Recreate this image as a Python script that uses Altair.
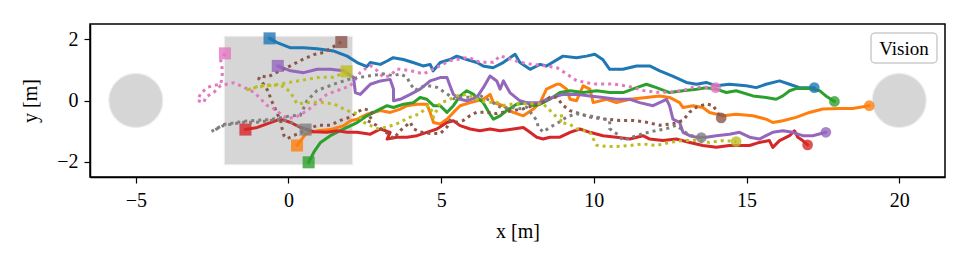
import altair as alt
import pandas as pd
import numpy as np

# ---------------- data ----------------
names = ["blue", "orange", "green", "red", "purple", "brown", "pink", "gray", "olive"]
colors = ["#1f77b4", "#ff7f0e", "#2ca02c", "#d62728", "#9467bd",
          "#8c564b", "#e377c2", "#7f7f7f", "#bcbd22"]
dotted = ["brown", "pink", "gray", "olive"]

blue_x = [-0.62, -0.37, 0.07, 0.49, 0.94, 1.47, 1.92, 2.25, 2.57, 2.68, 3.01, 3.23, 3.43, 3.76, 4.08, 4.41,
          4.64, 4.74, 4.97, 5.29, 5.51, 5.84, 6.17, 6.37, 6.70, 7.03, 7.42, 7.58, 7.91, 8.24, 8.45, 8.99,
          9.43, 9.76, 10.03, 10.29, 10.52, 10.95, 11.40, 11.83, 12.16, 12.58, 13.03, 13.36, 13.68, 14.01,
          14.44, 14.99, 15.32, 15.64, 16.08, 16.41, 16.73, 17.22]
blue_y = [2.03, 1.89, 1.72, 1.72, 1.69, 1.62, 1.45, 1.24, 1.11, 1.24, 1.18, 1.29, 1.40, 1.34, 1.24, 1.13,
          1.18, 0.97, 1.24, 1.34, 1.45, 1.34, 1.24, 1.13, 1.07, 1.24, 1.51, 1.24, 1.02, 1.18, 1.13, 1.45,
          1.40, 1.45, 1.51, 1.34, 1.02, 1.02, 1.13, 1.13, 0.97, 0.80, 0.59, 0.53, 0.59, 0.48,
          0.53, 0.48, 0.42, 0.53, 0.64, 0.53, 0.42, 0.42]

orange_x = [0.28, 0.56, 0.94, 1.37, 1.81, 2.03, 2.25, 2.57, 3.01, 3.33, 3.66, 3.88, 4.21, 4.53, 4.64, 4.75,
            4.97, 5.19, 5.40, 5.62, 5.95, 6.38, 6.60, 6.71, 7.04, 7.36, 7.69, 8.02, 8.24, 8.45, 8.78,
            8.89, 9.11, 9.22, 9.43, 9.65, 9.87, 9.98, 10.42, 10.74, 11.18, 11.72, 12.16, 12.48, 12.81,
            12.92, 13.25, 13.57, 13.79, 14.23, 14.66, 15.21, 15.64, 15.86, 16.19, 16.62, 17.06, 17.50,
            18.04, 18.47, 19.02]
orange_y = [-1.47, -1.10, -0.99, -0.95, -0.82, -0.66, -0.61, -0.45, -0.33, -0.39, -0.28, -0.17, -0.12, -0.12,
            -0.39, -0.72, -0.77, -0.61, -0.39, -0.17, -0.07, 0.04, 0.20, -0.07, -0.17, -0.39, -0.50, -0.28,
            -0.07, 0.37, 0.53, 0.53, 0.37, 0.04, -0.01, 0.48, 0.37, -0.07, 0.04, -0.07, 0.04, 0.10, 0.15,
            0.10, -0.07, -0.23, -0.17, -0.23, -0.39, -0.50, -0.45, -0.50, -0.61, -0.72, -0.66, -0.55, -0.39,
            -0.28, -0.26, -0.26, -0.17]

green_x = [0.66, 0.83, 1.05, 1.37, 1.81, 2.25, 2.57, 2.90, 3.23, 3.44, 3.77, 4.09, 4.31, 4.53, 4.75, 4.97,
           5.19, 5.40, 5.62, 5.84, 6.06, 6.38, 6.60, 6.71, 6.93, 7.15, 7.47, 7.80, 8.02, 8.24, 8.56, 8.89,
           9.22, 9.65, 10.09, 10.52, 10.96, 11.40, 11.72, 12.05, 12.48, 12.92, 13.36, 13.68, 14.01, 14.34,
           14.66, 15.21, 15.64, 15.97, 16.19, 16.41, 16.62, 17.06, 17.39, 17.60, 17.88]
green_y = [-2.02, -1.69, -1.37, -1.15, -0.93, -0.72, -0.50, -0.33, -0.17, -0.23, -0.12, -0.07, 0.10, 0.04,
           -0.17, -0.17, -0.39, -0.17, 0.15, 0.32, 0.20, -0.07, -0.45, -0.61, -0.50, -0.33, -0.12, -0.07,
           -0.17, -0.12, 0.04, 0.26, 0.32, 0.26, 0.32, 0.26, 0.26, 0.42, 0.53, 0.42, 0.26, 0.32, 0.37, 0.42,
           0.37, 0.26, 0.32, 0.15, 0.10, 0.04, 0.15, 0.32, 0.39, 0.39, 0.32, 0.15, -0.03]

red_x = [-1.41, -1.02, -0.59, -0.26, 0.07, 0.39, 0.83, 1.26, 1.59, 1.92, 2.25, 2.68, 3.01, 3.33, 3.23, 3.55,
         3.88, 4.21, 4.53, 4.86, 5.19, 5.40, 5.62, 5.95, 6.27, 6.60, 6.93, 7.36, 7.69, 7.91, 8.13, 8.34,
         8.56, 8.89, 9.22, 9.54, 9.87, 10.30, 10.74, 11.18, 11.61, 11.83, 12.26, 12.70, 13.14, 13.57,
         14.01, 14.44, 15.10, 15.42, 15.75, 15.86, 16.08, 16.41, 16.57, 16.68, 16.84, 17.00]
red_y = [-0.95, -0.88, -0.72, -0.61, -0.72, -0.88, -1.02, -1.04, -0.99, -1.04, -1.04, -1.10, -0.93, -1.04,
         -1.26, -1.20, -1.20, -1.15, -1.04, -0.93, -0.72, -0.66, -0.82, -0.93, -0.99, -0.93, -0.99, -0.93,
         -0.88, -1.04, -1.20, -1.26, -1.20, -1.20, -1.04, -0.93, -1.04, -1.15, -1.20, -1.26, -1.15, -1.26,
         -1.31, -1.26, -1.37, -1.47, -1.53, -1.47, -1.47, -1.37, -1.31, -1.53, -1.31, -1.15, -0.99, -1.20,
         -1.31, -1.45]

purple_x = [-0.35, 0.07, 0.50, 0.94, 1.37, 1.81, 2.13, 2.19, 2.35, 2.57, 2.68, 3.01, 3.33, 3.44, 3.44, 3.66,
            3.99, 4.31, 4.64, 4.97, 5.19, 5.29, 5.40, 5.62, 5.84, 6.17, 6.38, 6.60, 6.82, 6.93, 7.04, 7.25,
            7.58, 7.80, 8.24, 8.45, 8.99, 9.43, 9.87, 10.30, 10.74, 11.18, 11.50, 11.94, 12.38, 12.48, 12.59,
            12.81, 12.92, 13.14, 13.36, 13.68, 14.01, 14.44, 14.77, 15.10, 15.42, 15.64, 15.86, 16.19,
            16.51, 16.84, 17.17, 17.60]
purple_y = [1.13, 0.97, 0.91, 1.02, 1.02, 0.97, 0.75, 0.26, 0.20, 0.42, 0.53, 0.64, 0.69, 0.37, -0.01, 0.04,
            0.20, 0.37, 0.64, 0.75, 0.75, 0.48, 0.20, 0.04, -0.01, 0.10, 0.42, 0.80, 0.64, 0.37, 0.64, 0.26,
            -0.01, -0.07, -0.07, 0.04, 0.20, 0.20, 0.15, 0.10, 0.04, 0.04, -0.07, -0.17, 0.04, -0.17, -0.61,
            -0.72, -1.04, -1.15, -1.20, -1.20, -1.15, -1.10, -1.04, -1.20, -1.26, -1.15, -1.04, -0.99,
            -1.04, -1.15, -1.15, -1.04]

brown_x = [1.73, 1.15, 0.83, 0.50, 0.17, -0.04, -0.26, -0.48, -0.70, -0.92, -0.97, -0.86, -0.75, -0.64, -0.59,
           -0.48, -0.37, -0.26, -0.21, -0.15, -0.04, 0.07, 0.49, 0.94, 1.37, 1.70, 2.03, 2.25, 2.46, 2.68,
           2.79, 2.57, 2.88, 3.33, 3.44, 3.66, 3.99, 4.09, 4.31, 4.64, 4.97, 5.19, 5.29, 5.51, 5.73, 5.95,
           6.17, 6.49, 6.82, 7.04, 7.36, 7.69, 8.02, 8.34, 8.56, 8.78, 8.99, 9.22, 9.54, 9.87, 10.30, 10.85,
           11.28, 11.72, 12.16, 12.59, 12.92, 13.14, 13.36, 13.68, 13.90, 14.17]
brown_y = [1.91, 1.57, 1.50, 1.36, 1.19, 1.08, 0.98, 0.87, 0.76, 0.81, 0.71, 0.60, 0.43, 0.27, 0.06, -0.16,
           -0.43, -0.65, -0.92, -1.14, -1.25, -1.19, -1.01, -0.81, -0.81, -0.65, -0.54, -0.38, -0.27, -0.33,
           -0.49, -0.65, -0.81, -1.14, -1.25, -0.98, -0.71, -0.92, -1.03, -1.08, -1.08, -0.87, -0.65, -0.71,
           -0.65, -0.49, -0.38, -0.38, -0.43, -0.38, -0.33, -0.27, -0.16, -0.06, 0.11, 0.11, -0.16, -0.33,
           -0.43, -0.54, -0.60, -0.65, -0.65, -0.71, -0.81, -0.76, -0.65, -0.38, -0.22, -0.11, -0.16, -0.57]

pink_x = [-2.08, -2.22, -2.17, -2.17, -2.22, -2.44, -2.66, -2.88, -2.98, -2.77, -2.71, -2.44, -2.22, -1.79,
          -1.46, -1.13, -0.92, -0.70, -0.48, -0.26, -0.04, 0.28, 0.61, 0.94, 1.26, 1.59, 2.03, 2.35, 2.57,
          2.68, 2.90, 3.11, 3.33, 3.55, 3.99, 4.42, 4.75, 4.97, 5.29, 5.62, 5.89, 6.27, 6.71, 6.93, 7.25,
          7.58, 7.91, 8.34, 8.78, 9.11, 9.43, 9.98, 10.30, 10.63, 10.96, 11.28, 11.61, 12.05, 12.48, 12.92,
          13.25, 13.68, 13.99]
pink_y = [1.54, 1.30, 1.03, 0.76, 0.54, 0.49, 0.43, 0.22, 0.00, -0.06, 0.11, 0.27, 0.49, 0.58, 0.43, 0.27,
          0.06, -0.16, -0.27, -0.43, -0.60, -0.52, -0.33, -0.07, 0.20, 0.32, 0.48, 0.91, 1.08, 1.14, 0.98,
          0.76, 0.81, 1.03, 0.98, 0.87, 1.03, 1.14, 1.30, 1.36, 1.41, 1.25, 1.25, 1.46, 1.36, 1.25, 1.19,
          1.14, 1.08, 0.87, 0.65, 0.54, 0.54, 0.54, 0.49, 0.43, 0.33, 0.27, 0.27, 0.33, 0.43, 0.43, 0.42]

gray_x = [0.56, 0.07, -0.26, -0.59, -1.02, -1.46, -1.79, -2.11, -2.33, -2.52, -2.11, -1.46, -0.59, 0.07, 0.39,
          0.61, 0.94, 1.48, 1.81, 2.03, 2.35, 2.68, 3.11, 3.44, 3.66, 3.88, 3.99, 4.15, 4.31, 4.53, 4.86,
          5.19, 5.40, 5.62, 6.06, 6.27, 6.60, 6.82, 7.04, 7.25, 7.58, 7.80, 8.13, 8.18, 8.34, 8.56, 8.78,
          9.11, 9.43, 9.76, 10.09, 10.52, 10.52, 10.74, 10.96, 11.28, 11.61, 12.05, 12.38, 12.70, 12.92,
          13.14, 13.52]
gray_y = [-0.95, -0.71, -0.60, -0.65, -0.71, -0.71, -0.76, -0.81, -0.92, -1.01, -0.78, -0.68, -0.62, -0.50,
          -0.48, 0.00, 0.33, 0.53, 0.64, 0.71, 0.76, 0.81, 0.87, 0.81, 0.87, 0.76, 0.54, 0.33, 0.43, 0.49,
          0.43, 0.22, 0.06, 0.11, 0.11, 0.16, 0.00, -0.16, -0.27, -0.22, -0.27, -0.22, -0.65, -0.87, -1.03,
          -0.87, -0.76, -0.54, -0.43, -0.49, -0.54, -0.65, -0.92, -1.08, -1.30, -1.19, -1.08, -0.98, -0.92,
          -0.81, -0.98, -1.14, -1.21]

olive_x = [1.90, 1.48, 1.05, 0.72, 0.39, 0.07, -0.26, -0.59, -0.92, -1.24, -1.41, -1.08, -0.59, -0.16, 0.07,
           0.28, 0.72, 1.05, 1.48, 1.92, 2.25, 2.46, 2.90, 3.23, 3.55, 3.99, 4.31, 4.58, 4.75, 4.70, 4.97,
           5.19, 5.51, 5.84, 6.27, 6.49, 6.82, 7.04, 7.36, 8.02, 8.34, 8.78, 8.99, 8.89, 9.22, 9.43, 9.87,
           10.09, 10.42, 10.74, 11.18, 11.61, 12.05, 12.48, 12.92, 13.36, 13.79, 14.23, 14.66]
olive_y = [0.95, 0.76, 0.76, 0.71, 0.65, 0.60, 0.54, 0.49, 0.49, 0.38, 0.33, 0.42, 0.52, 0.46, 0.26, -0.11,
           -0.06, -0.06, -0.11, -0.33, -0.43, -0.71, -0.92, -0.87, -0.76, -0.54, -0.43, -0.16, -0.43, -0.65,
           -0.07, -0.01, 0.15, 0.20, 0.00, -0.06, -0.06, -0.16, -0.11, -0.11, -0.11, -0.54, -0.49, -0.71,
           -0.78, -0.92, -1.04, -1.46, -1.50, -1.50, -1.47, -1.42, -1.47, -1.37, -1.31, -1.31, -1.37, -1.31,
           -1.34]

xs = [blue_x, orange_x, green_x, red_x, purple_x, brown_x, pink_x, gray_x, olive_x]
ys = [blue_y, orange_y, green_y, red_y, purple_y, brown_y, pink_y, gray_y, olive_y]

# obstacles (grey discs) and vision region
obstacle_x = [-5.0, 20.0]
obstacle_y = [0.0, 0.0]
obstacle_r = 1.0
vision_box = [-2.1, 2.1, -2.1, 2.1]  # x0, x1, y0, y1
legend_label = ["Vision"]

x_ticks = [-5, 0, 5, 10, 15, 20]
y_ticks = [-2, 0, 2]
x_dom = [-6.5, 21.5]
y_dom = [-2.5, 2.5]

# ---------------- build tables ----------------
rows = []
for n, xx, yy in zip(names, xs, ys):
    for i, (a, b) in enumerate(zip(xx, yy)):
        rows.append({"traj": n, "i": i, "x": a, "y": b,
                     "style": "dotted" if n in dotted else "solid"})
df = pd.DataFrame(rows)
starts = df.groupby("traj").first().reset_index()
ends = df.groupby("traj").last().reset_index()

W, H = 855, 153
FONT = "Liberation Serif"
GREY = "#d6d6d6"

xs_scale = alt.Scale(domain=x_dom, nice=False, zero=False)
ys_scale = alt.Scale(domain=y_dom, nice=False, zero=False)
col_scale = alt.Scale(domain=names, range=colors)

X = alt.X("x:Q", scale=xs_scale,
          axis=alt.Axis(values=x_ticks, title="x [m]", format="d"))
Y = alt.Y("y:Q", scale=ys_scale,
          axis=alt.Axis(values=y_ticks, title="y [m]", format="d"))

r_px = obstacle_r * W / (x_dom[1] - x_dom[0])
obs_df = pd.DataFrame({"x": obstacle_x, "y": obstacle_y})
obstacles = alt.Chart(obs_df).mark_circle(
    size=float(np.pi * r_px ** 2), color=GREY, opacity=1,
    stroke="#eeeeee", strokeWidth=1.2
).encode(x=X, y=Y)

box_df = pd.DataFrame({"x": [vision_box[0]], "x2": [vision_box[1]],
                       "y": [vision_box[2]], "y2": [vision_box[3]]})
box = alt.Chart(box_df).mark_rect(color=GREY, stroke="#eeeeee", strokeWidth=1.2, opacity=1).encode(
    x=X, x2="x2:Q", y=Y, y2="y2:Q")

solid_lines = alt.Chart(df[df["style"] == "solid"]).mark_line(
    strokeWidth=3, strokeCap="round", strokeJoin="round"
).encode(x=X, y=Y, color=alt.Color("traj:N", scale=col_scale, legend=None),
         detail="traj:N", order="i:Q")

dotted_lines = alt.Chart(df[df["style"] == "dotted"]).mark_line(
    strokeWidth=3, strokeDash=[3, 4]
).encode(x=X, y=Y, color=alt.Color("traj:N", scale=col_scale, legend=None),
         detail="traj:N", order="i:Q")

start_pts = alt.Chart(starts).mark_square(size=145, opacity=0.8, filled=True).encode(
    x=X, y=Y, color=alt.Color("traj:N", scale=col_scale, legend=None))
end_pts = alt.Chart(ends).mark_circle(size=115, opacity=0.8).encode(
    x=X, y=Y, color=alt.Color("traj:N", scale=col_scale, legend=None))

# legend box (annotation, placed in the top-right corner of the plot)
leg_df = pd.DataFrame({"lab": legend_label})
leg_box = alt.Chart(leg_df).mark_rect(
    fill="white", stroke="#cccccc", strokeWidth=1.5, cornerRadius=4
).encode(x=alt.value(W - 74), x2=alt.value(W - 8), y=alt.value(9), y2=alt.value(39))
leg_txt = alt.Chart(leg_df).mark_text(
    font=FONT, fontSize=19, color="black", align="center", baseline="middle"
).encode(x=alt.value(W - 41), y=alt.value(24.5), text="lab:N")

chart = alt.layer(box, obstacles, solid_lines, dotted_lines, start_pts, end_pts,
                  leg_box, leg_txt).properties(
    width=W, height=H, padding={"left": 12, "top": 16, "right": 5, "bottom": 5}
).configure_view(stroke="black", strokeWidth=1.5).configure_axis(
    labelFont=FONT, titleFont=FONT, labelFontSize=20, titleFontSize=20,
    titleFontWeight="normal", labelColor="black", titleColor="black",
    domainColor="black", tickColor="black", tickSize=6, grid=False, domainWidth=1.5, tickWidth=1.2
).configure_axisX(labelPadding=7, titlePadding=11).configure_axisY(labelPadding=6, titlePadding=16)

chart.save("out.html", embed_options={"renderer": "svg", "actions": False})
